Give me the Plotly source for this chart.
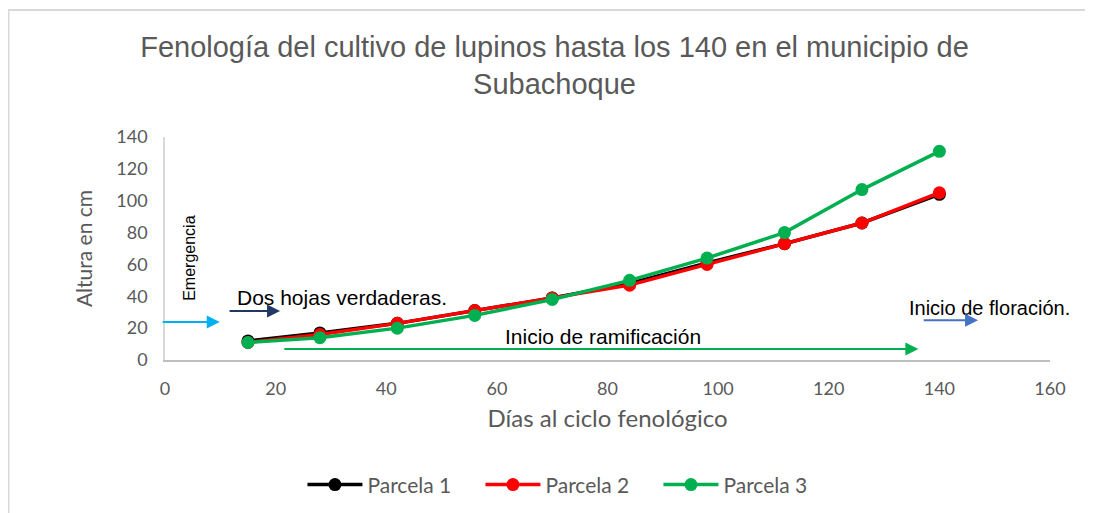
import plotly.graph_objects as go

# Data
dias = [15, 28, 42, 56, 70, 84, 98, 112, 126, 140]
parcela_1 = [12, 17, 23, 31, 39, 48, 61, 73, 86, 104]
parcela_2 = [11, 16, 23, 31, 39, 47, 60, 73, 86, 105]
parcela_3 = [11, 14, 20, 28, 38, 50, 64, 80, 107, 131]

series = [
    ("Parcela 1", parcela_1, "#000000"),
    ("Parcela 2", parcela_2, "#FF0000"),
    ("Parcela 3", parcela_3, "#00B050"),
]

# page body has an 8px margin, so the figure is placed 8px right/down
W, H = 1093, 513
L, R, T, B = 157, 51, 129, 161
GRAY = "#595959"
ARIAL = "Liberation Sans, Arial, sans-serif"
CALIBRI = "Lato, Carlito, Calibri, sans-serif"

fig = go.Figure()
for name, vals, col in series:
    fig.add_trace(go.Scatter(x=dias, y=vals, name=name, mode="lines+markers",
                             line=dict(color=col, width=3.5),
                             marker=dict(color=col, size=13)))

# Phenology annotations: (text, x, y, rotation, size)
labels = [
    ("Emergencia", 4.3, 64, -90, 16),
    ("Dos hojas verdaderas.", 12.7, 39.5, 0, 21),
    ("Inicio de ramificación", 79.2, 15, 0, 21),
    ("Inicio de floración.", 149, 32.6, 0, 20),
]
annotations = []
for text, x, y, rot, size in labels:
    annotations.append(dict(text=text, x=x, y=y, xref="x", yref="y", showarrow=False,
                            textangle=rot, xanchor="left" if text.startswith("Dos") else "center",
                            font=dict(family=ARIAL, size=size, color="#000000")))

# Arrows: (x_tail, x_head, y, colour, width)
arrows = [
    (-0.7, 9.9, 23.8, "#00B0F0", 2),
    (11.4, 20.8, 30.8, "#1F3864", 2),
    (21.3, 136.2, 6.9, "#00B050", 2),
    (136.9, 147, 25, "#4472C4", 2),
]
for x0, x1, y, col, w in arrows:
    annotations.append(dict(x=x1, y=y, ax=x0, ay=y, xref="x", yref="y", axref="x", ayref="y",
                            showarrow=True, arrowhead=2, arrowsize=1.3, arrowwidth=w,
                            arrowcolor=col, text=""))

pw, ph = W - L - R, H - T - B
fig.update_layout(
    width=W, height=H,
    margin=dict(l=L, r=R, t=T, b=B),
    paper_bgcolor="white", plot_bgcolor="white",
    font=dict(family=CALIBRI, color=GRAY),
    title=dict(text="Fenología del cultivo de lupinos hasta los 140 en el municipio de<br>Subachoque",
               x=0.5, xanchor="center", y=0.905, yanchor="middle",
               font=dict(family=ARIAL, size=29, color=GRAY)),
    showlegend=True,
    legend=dict(orientation="h", x=0.457, xanchor="center", y=-0.56, yanchor="middle",
                itemwidth=55, entrywidth=108, entrywidthmode="pixels",
                font=dict(family=CALIBRI, size=21, color=GRAY)),
    annotations=annotations,
    shapes=[
        dict(type="line", xref="paper", yref="paper",
             x0=-L / pw, x1=1 + R / pw, y0=1 + (T - 2) / ph, y1=1 + (T - 2) / ph,
             line=dict(color="#D9D9D9", width=2)),
        dict(type="line", xref="paper", yref="paper",
             x0=-(L - 0.5) / pw, x1=-(L - 0.5) / pw, y0=-B / ph, y1=1 + (T - 2) / ph,
             line=dict(color="#D9D9D9", width=2)),
    ],
)
fig.update_xaxes(range=[0, 160], dtick=20, showgrid=False, zeroline=False,
                 showline=True, linecolor="#BFBFBF", linewidth=1.5, ticks="",
                 ticklabelstandoff=12,
                 tickfont=dict(family=CALIBRI, size=18, color=GRAY),
                 title=dict(text="Días al ciclo fenológico",
                            font=dict(family=CALIBRI, size=24, color=GRAY), standoff=12))
fig.update_yaxes(range=[0, 140], dtick=20, showgrid=False, zeroline=False,
                 showline=True, linecolor="#D9D9D9", linewidth=1.5, ticks="",
                 ticklabelstandoff=12,
                 tickfont=dict(family=CALIBRI, size=18, color=GRAY),
                 title=dict(text="Altura en cm",
                            font=dict(family=CALIBRI, size=21, color=GRAY), standoff=18))

fig.write_html("out.html")
